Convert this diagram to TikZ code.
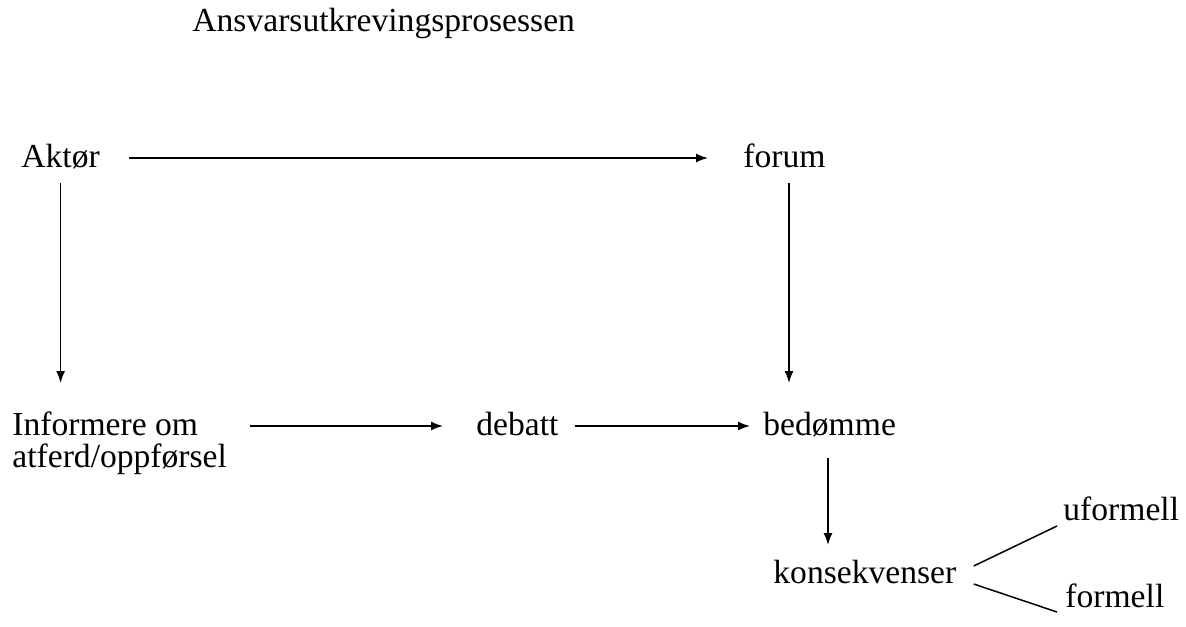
\documentclass[tikz,border=0pt]{standalone}
\usepackage{fontspec}
\setmainfont{Liberation Serif}
\usetikzlibrary{arrows.meta,calc}
\begin{document}
\begin{tikzpicture}[x=0.5pt,y=-0.5pt,
  lbl/.style={inner sep=0pt,anchor=base west,font=\fontsize{16.8}{16}\selectfont},
  arr/.style={line width=0.75pt,-{Latex[length=6pt,width=4.5pt]}},
  ln/.style={line width=0.75pt}]
\useasboundingbox[fill=white] (0,0) rectangle (1186,626);
\node[lbl] (t) at (192,32) {Ansvarsutkrevingsprosessen};
\node[lbl] (a) at (21,167) {Aktør};
\node[lbl] (f) at (743,167) {forum};
\node[lbl,align=left] (i) at (12,467) {Informere om\\atferd/oppførsel};
\node[lbl] (d) at (476,435) {debatt};
\node[lbl] (b) at (763,435) {bedømme};
\node[lbl] (k) at (773,583) {konsekvenser};
\node[lbl] (u) at (1063,520) {uformell};
\node[lbl] (fo) at (1065,607) {formell};
% connectors
\draw[arr] ($(a.base east)+(29,-9)$) -- ($(f.base west)+(-35,-9)$);
\draw[arr] ($(a.base)+(0,16)$) -- ($(a.base |- d.base)+(0,-52)$);
\draw[arr] ($(f.base west)+(46,16)$) -- ($(f.base west |- b.base)+(46,-52)$);
\draw[arr] ($(d.base west)+(-226,-9)$) -- ($(d.base west)+(-33,-9)$);
\draw[arr] ($(d.base east)+(16,-9)$) -- ($(b.base west)+(-13,-9)$);
\draw[arr] ($(b.base west)+(65,23)$) -- ($(b.base west |- k.base)+(65,-38)$);
\draw[ln] ($(k.base east)+(17,-17)$) -- ($(u.base west)+(-6,6)$);
\draw[ln] ($(k.base east)+(17,1)$) -- ($(fo.base west)+(-8,5)$);
\end{tikzpicture}
\end{document}
